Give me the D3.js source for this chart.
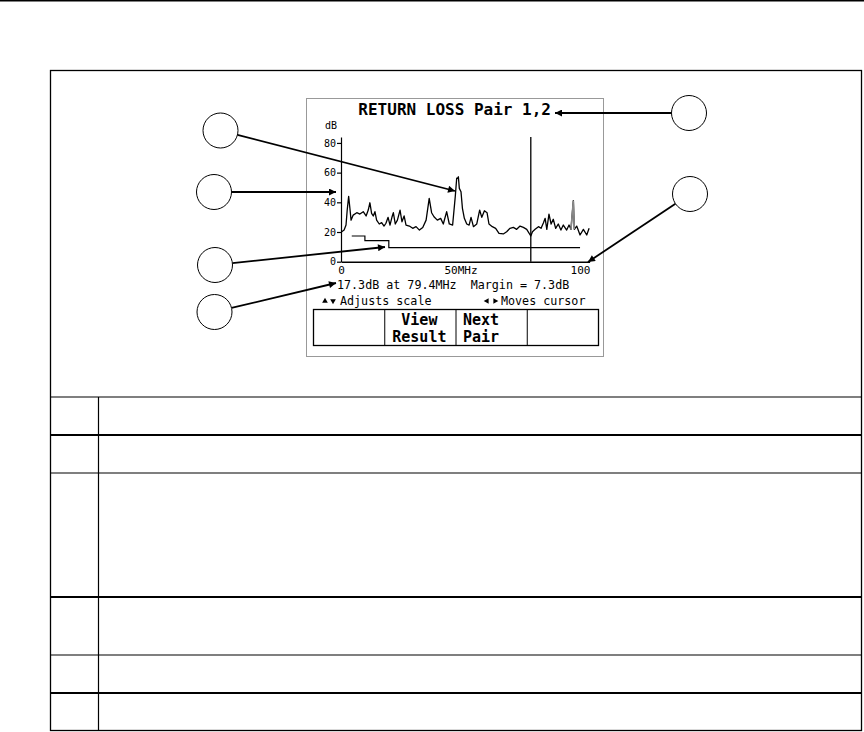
<!DOCTYPE html>
<html>
<head>
<meta charset="utf-8">
<script src="https://cdn.jsdelivr.net/npm/d3@7"></script>
<style>
  html, body { margin: 0; padding: 0; background: #fff; }
  svg { display: block; }
  .lcd { font-family: "DejaVu Sans Mono", monospace; fill: #000; }
</style>
</head>
<body>
<div id="chart"></div>
<script>
// return loss trace for pair 1,2 (MHz / dB)
const traceMHz = [0.3, 1.3, 2.1, 2.6, 3.2, 3.8, 4.2, 5.1, 6.6, 7.9,
  9.3, 10.5, 11.4, 12.1, 12.8, 13.5, 14.2, 14.9, 16, 17,
  18, 18.8, 19.7, 20.5, 21.3, 21.9, 22.7, 23.6, 24.7, 25.5,
  26.4, 27.2, 28.6, 30, 31.4, 32.8, 34.2, 35.6, 36.9, 37.9,
  38.9, 40.3, 41.7, 42.8, 44.2, 45.3, 46.7, 47.8, 48.4, 48.8,
  49.1, 49.5, 50.2, 50.8, 51.6, 52.6, 53.6, 54.4, 55.4, 56.8,
  58, 58.9, 60, 61.1, 61.9, 63.3, 64.7, 66.1, 67.9, 69.3,
  70.7, 72.1, 73.5, 74.9, 76.3, 77.7, 79.4, 80.1, 81.2, 82.6,
  83.7, 84.7, 85.4, 86.1, 87, 87.9, 88.8, 89.8, 90.9, 92,
  93, 94.4, 95.4, 96.2, 97.2, 97.6, 98.6, 100, 101.4, 102.8,
  103.8];
const traceDb = [20.2, 21.3, 24.7, 34.8, 44.0, 34.8, 28, 31.4, 33, 32.1,
  33.7, 30.8, 34.8, 39.7, 32.6, 30.8, 33.7, 28, 25.4, 26.3,
  24, 25.9, 29.9, 24.7, 29.9, 33, 25.4, 28, 34.8, 26.9,
  30.8, 24.7, 24, 22.5, 23.6, 21.3, 23.1, 28, 42.7, 33,
  30.3, 28, 29.2, 25.4, 33.7, 25.4, 24.7, 43.8, 56.2, 56.2,
  57.2, 49.4, 47.1, 36, 29.2, 25.4, 24.7, 29.9, 23.6, 25.4,
  34.8, 29.9, 34.3, 33, 25.4, 23.6, 22.5, 19.1, 18.7, 20.2,
  22.5, 23.1, 21.8, 24, 23.1, 21.8, 17.3, 20.2, 21.8, 23.6,
  22.5, 26.3, 29.2, 21.8, 32.1, 25.4, 28.6, 22.5, 25.4, 21.3,
  24.7, 21.3, 24.7, 21.8, 41.1, 21.8, 24, 18, 21.8, 18,
  22.5];
// limit line (step)
const limitMHz = [4.5, 10, 20, 100];
const limitDb = [17.3, 14.2, 9.5, 9.5];
// the spike the screen draws in grey
const spikeMHz = [96.2, 97.6];
const yTicks = [0, 20, 40, 60, 80];
const xTicks = [0, 50, 100];
const xTickLabels = ['0', '50MHz', '100'];
const cursorMHz = 79.4;
const cursorDb = 17.3;
const marginDb = 7.3;
const title = 'RETURN LOSS Pair 1,2';
const softKeys = [['', ''], ['View', 'Result'], ['Next', 'Pair'], ['', '']];

const W = 864, H = 732;
const svg = d3.select('#chart').append('svg')
  .attr('width', W)
  .attr('height', H);

const defs = svg.append('defs');
defs.append('marker')
  .attr('id', 'arrow')
  .attr('viewBox', '0 0 10 10')
  .attr('refX', 10)
  .attr('refY', 5)
  .attr('markerUnits', 'userSpaceOnUse')
  .attr('markerWidth', 11)
  .attr('markerHeight', 7)
  .attr('orient', 'auto')
  .append('path')
  .attr('d', 'M0,0L10,5L0,10z')
  .attr('fill', '#000');

// page rule + figure table
svg.append('line')
  .attr('x1', 0).attr('x2', W).attr('y1', 0.75).attr('y2', 0.75)
  .attr('stroke', '#000').attr('stroke-width', 1.5);

svg.append('rect')
  .attr('x', 50.5).attr('y', 70.5).attr('width', 811).attr('height', 660)
  .attr('fill', 'none').attr('stroke', '#000').attr('stroke-width', 1.3);

const rowLines = [397, 435, 473, 597, 655, 693];
const rowWidths = [1.2, 2.2, 1.2, 2.2, 1.2, 2.2];
svg.selectAll('.rowline')
  .data(rowLines)
  .enter().append('line')
  .attr('x1', 50).attr('x2', 862)
  .attr('y1', d => d).attr('y2', d => d)
  .attr('stroke', '#000')
  .attr('stroke-width', (d, i) => rowWidths[i]);
svg.append('line')
  .attr('x1', 98.5).attr('x2', 98.5).attr('y1', 397).attr('y2', 731)
  .attr('stroke', '#000').attr('stroke-width', 1.2);

// tester screen
svg.append('rect')
  .attr('x', 306.5).attr('y', 98.5).attr('width', 297).attr('height', 258)
  .attr('fill', '#fff').attr('stroke', '#999').attr('stroke-width', 1);

svg.append('text')
  .attr('class', 'lcd')
  .attr('x', 551).attr('y', 115)
  .attr('text-anchor', 'end')
  .attr('font-size', 16).attr('font-weight', 'bold')
  .text(title);

const x = d3.scaleLinear().domain([0, 104]).range([341, 589.6]);
const y = d3.scaleLinear().domain([0, 84]).range([261.7, 137]);

const yAxis = svg.append('g')
  .attr('transform', 'translate(' + x(0) + ',0)')
  .call(d3.axisLeft(y).tickValues(yTicks).tickSize(4).tickSizeOuter(0).tickPadding(1));
yAxis.selectAll('text').attr('class', 'lcd').attr('font-size', 10);
yAxis.selectAll('path, line').attr('stroke', '#000').attr('stroke-width', 1.2);

svg.append('text')
  .attr('class', 'lcd')
  .attr('x', 337).attr('y', 129)
  .attr('text-anchor', 'end')
  .attr('font-size', 10)
  .text('dB');

const xAxis = svg.append('g')
  .attr('transform', 'translate(0,' + y(0) + ')')
  .call(d3.axisBottom(x).tickValues(xTicks).tickSize(0).tickSizeOuter(0).tickPadding(5)
    .tickFormat((d, i) => xTickLabels[i]));
xAxis.selectAll('text').attr('class', 'lcd').attr('font-size', 11);
xAxis.selectAll('path').attr('stroke', '#000').attr('stroke-width', 1.5);

// limit line
const limitData = limitMHz.map((f, i) => ({ f: f, db: limitDb[i] }));
svg.append('path')
  .datum(limitData)
  .attr('fill', 'none')
  .attr('stroke', '#000')
  .attr('stroke-width', 1.2)
  .attr('d', d3.line().curve(d3.curveStepAfter).x(d => x(d.f)).y(d => y(d.db)));

// trace
const trace = traceMHz.map((f, i) => ({ f: f, db: traceDb[i] }));
const line = d3.line().x(d => x(d.f)).y(d => y(d.db));
svg.append('path')
  .datum(trace)
  .attr('fill', 'none')
  .attr('stroke', '#000')
  .attr('stroke-width', 1.3)
  .attr('stroke-linejoin', 'round')
  .attr('d', line);
svg.append('path')
  .datum(trace.filter(d => d.f >= spikeMHz[0] && d.f <= spikeMHz[1]))
  .attr('fill', 'none')
  .attr('stroke', '#888')
  .attr('stroke-width', 1.6)
  .attr('d', line);

// cursor
svg.append('line')
  .attr('x1', x(cursorMHz)).attr('x2', x(cursorMHz))
  .attr('y1', y.range()[1]).attr('y2', y(0))
  .attr('stroke', '#000').attr('stroke-width', 1.3);

// readout
svg.append('text')
  .attr('class', 'lcd')
  .attr('x', 337).attr('y', 289)
  .attr('font-size', 11.7)
  .attr('xml:space', 'preserve')
  .style('white-space', 'pre')
  .text(cursorDb.toFixed(1) + 'dB at ' + cursorMHz + 'MHz  Margin = ' + marginDb.toFixed(1) + 'dB');

const tri = d3.symbol().type(d3.symbolTriangle).size(14);
const hints = [
  { x: 325, rot: 0 }, { x: 333, rot: 180 },
  { x: 487, rot: -90 }, { x: 495, rot: 90 }
];
svg.selectAll('.hint')
  .data(hints)
  .enter().append('path')
  .attr('d', tri)
  .attr('transform', d => 'translate(' + d.x + ',301) rotate(' + d.rot + ')')
  .attr('fill', '#000');
svg.append('text').attr('class', 'lcd')
  .attr('x', 340).attr('y', 305).attr('font-size', 11.7)
  .text('Adjusts scale');
svg.append('text').attr('class', 'lcd')
  .attr('x', 501).attr('y', 305).attr('font-size', 11.7)
  .text('Moves cursor');

// soft keys
const keyX = d3.scaleBand().domain(d3.range(softKeys.length)).range([313.5, 598.5]);
svg.append('rect')
  .attr('x', 313.5).attr('y', 309.5).attr('width', 285).attr('height', 36)
  .attr('fill', 'none').attr('stroke', '#000').attr('stroke-width', 1.3);
svg.selectAll('.keydiv')
  .data(d3.range(1, softKeys.length))
  .enter().append('line')
  .attr('x1', d => keyX(d)).attr('x2', d => keyX(d))
  .attr('y1', 309.5).attr('y2', 345.5)
  .attr('stroke', '#000').attr('stroke-width', 1);
softKeys.forEach((k, i) => {
  k.forEach((s, j) => {
    const t = svg.append('text').attr('class', 'lcd')
      .attr('y', 325 + j * 16.5)
      .attr('font-size', 15).attr('font-weight', 'bold')
      .text(s);
    if (i === 2) {
      t.attr('x', keyX(i) + 7).attr('text-anchor', 'start');
    } else {
      t.attr('x', keyX(i) + keyX.bandwidth() / 2 - 1).attr('text-anchor', 'middle');
    }
  });
});

// numbered callouts (numbers are in the surrounding text, circles stay empty)
const callouts = [
  { cx: 220.5, cy: 130.5, tx: 455, ty: 191 },
  { cx: 214, cy: 192, tx: 336, ty: 192 },
  { cx: 215, cy: 265, tx: 385, ty: 247 },
  { cx: 214.5, cy: 312, tx: 336, ty: 283 },
  { cx: 689, cy: 113, tx: 555, ty: 113 },
  { cx: 690, cy: 194, tx: 588, ty: 262 }
];
const R = 17.5;
svg.selectAll('.callout-line')
  .data(callouts)
  .enter().append('line')
  .attr('x1', d => d.cx + R * (d.tx - d.cx) / Math.hypot(d.tx - d.cx, d.ty - d.cy))
  .attr('y1', d => d.cy + R * (d.ty - d.cy) / Math.hypot(d.tx - d.cx, d.ty - d.cy))
  .attr('x2', d => d.tx).attr('y2', d => d.ty)
  .attr('stroke', '#000').attr('stroke-width', 1.8)
  .attr('marker-end', 'url(#arrow)');
svg.selectAll('.callout')
  .data(callouts)
  .enter().append('circle')
  .attr('cx', d => d.cx).attr('cy', d => d.cy).attr('r', R)
  .attr('fill', '#fff').attr('stroke', '#000').attr('stroke-width', 1);
</script>
</body>
</html>
